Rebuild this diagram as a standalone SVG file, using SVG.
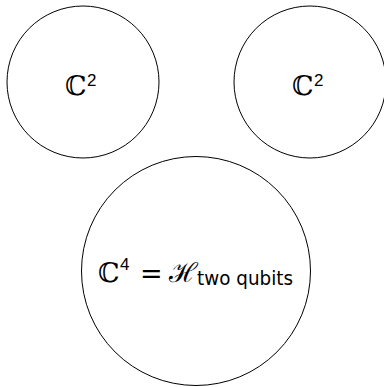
<svg xmlns="http://www.w3.org/2000/svg" width="384" height="387" viewBox="0 0 384 387">
<style>
.c{fill:none;stroke:#000;stroke-width:1}
.m{font-family:"DejaVu Serif",serif;font-size:27px;fill:#000}
.s{font-family:"Liberation Sans","DejaVu Sans",sans-serif;font-size:17px;fill:#000}
.sub{font-family:"DejaVu Sans","Liberation Sans",sans-serif;font-size:19px;fill:#000}
</style>
<rect width="384" height="387" fill="#fff"/>
<g id="c2a">
<circle class="c" cx="83" cy="82" r="76"/>
<text class="m" x="65" y="95">ℂ</text><text class="s" x="87" y="86">2</text>
</g>
<g id="c2b">
<circle class="c" cx="310" cy="82" r="76"/>
<text class="m" x="292" y="95">ℂ</text><text class="s" x="314" y="86">2</text>
</g>
<g id="c4">
<circle class="c" cx="196" cy="271" r="114.5"/>
<text class="m" x="98" y="282">ℂ</text><text class="s" x="120" y="270">4</text>
<text class="m" x="140" y="283">=</text>
<text class="m" x="169" y="282">ℋ</text>
<text class="sub" x="197" y="285" textLength="96" lengthAdjust="spacingAndGlyphs">two qubits</text>
</g>
<g id="connectors"/>
</svg>
